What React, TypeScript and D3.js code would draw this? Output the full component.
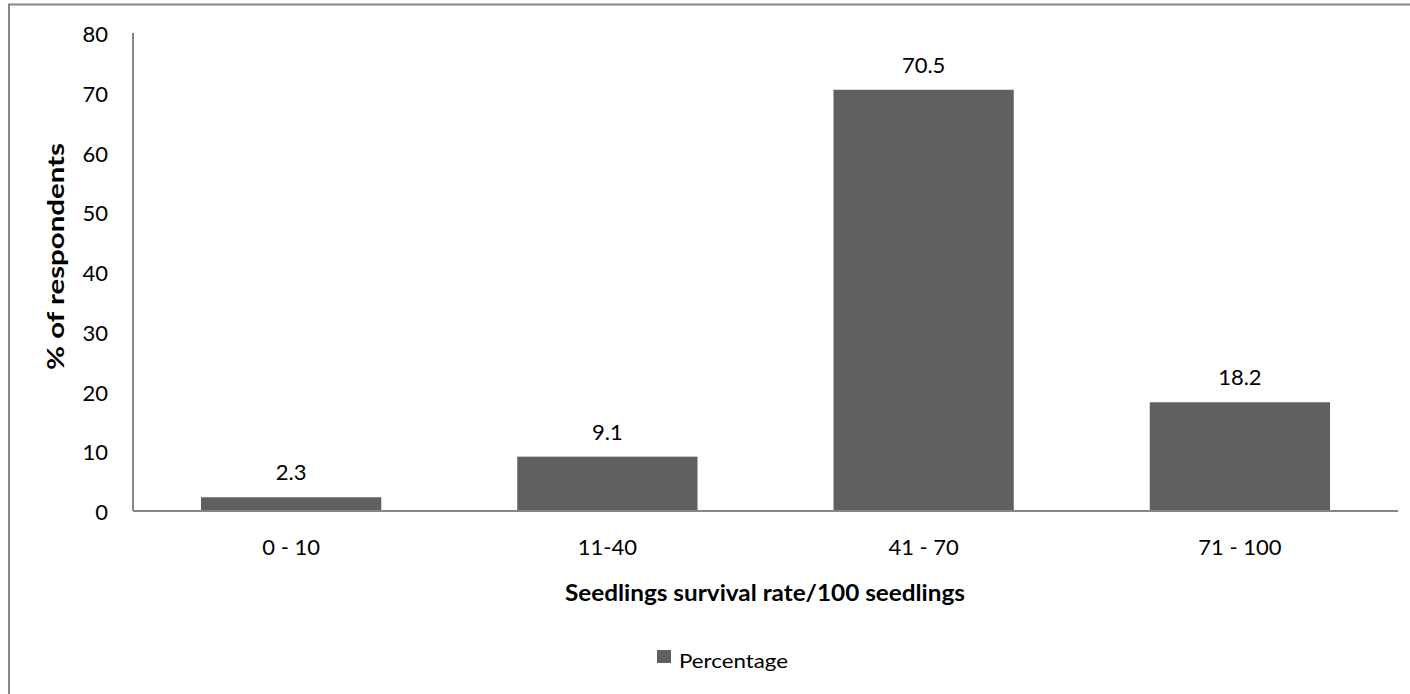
import React from "react";
import * as d3 from "d3";

const categories = ["0 - 10", "11-40", "41 - 70", "71 - 100"];
const percentages = [2.3, 9.1, 70.5, 18.2];
const yTicks = [0, 10, 20, 30, 40, 50, 60, 70, 80];

const W = 1410;
const H = 694;
const FONT = "Lato, 'Open Sans', sans-serif";
const AXIS = "#868686";
const BAR = "#606060";

export default function App() {
  const left = 133;
  const right = 1398;
  const top = 33;
  const bottom = 511;

  const x = d3
    .scaleBand<string>()
    .domain(categories)
    .range([left, right])
    .paddingInner(0.43)
    .paddingOuter(0.215);
  const y = d3.scaleLinear().domain([0, 80]).range([bottom, top]);

  return (
    <svg
      width={W}
      height={H}
      style={{ position: "absolute", left: 0, top: 0, background: "#fff" }}
      fontFamily={FONT}
    >
      {/* outer chart frame */}
      <rect x={9} y={4.5} width={1420} height={720} fill="#fff" stroke={AXIS} strokeWidth={2} />

      {/* y tick labels */}
      {yTicks.map((t) => (
        <text key={t} x={108} y={y(t) + 1.5} dy="0.35em" textAnchor="end" fontSize={22} fill="#000">
          {t}
        </text>
      ))}

      {/* bars */}
      {categories.map((c, i) => (
        <rect
          key={c}
          x={x(c)}
          y={y(percentages[i])}
          width={x.bandwidth()}
          height={y(0) - y(percentages[i])}
          fill={BAR}
        />
      ))}

      {/* value labels */}
      {categories.map((c, i) => (
        <text
          key={c}
          x={(x(c) as number) + x.bandwidth() / 2}
          y={y(percentages[i]) - 17}
          textAnchor="middle"
          fontSize={22}
          fill="#000"
        >
          {percentages[i].toFixed(1)}
        </text>
      ))}

      {/* axes */}
      <line x1={left} x2={left} y1={top} y2={bottom} stroke={AXIS} strokeWidth={2} />
      <line x1={left} x2={right} y1={bottom} y2={bottom} stroke={AXIS} strokeWidth={2} />

      {/* x tick labels */}
      {categories.map((c) => (
        <text
          key={c}
          x={(x(c) as number) + x.bandwidth() / 2}
          y={555}
          textAnchor="middle"
          fontSize={22}
          fill="#000"
        >
          {c}
        </text>
      ))}

      {/* axis titles */}
      <text
        x={765}
        y={601}
        textAnchor="middle"
        fontSize={22}
        fontWeight="bold"
        fill="#000"
        textLength={400}
        lengthAdjust="spacingAndGlyphs"
      >
        Seedlings survival rate/100 seedlings
      </text>
      <text
        transform={`translate(64, 256.5) rotate(-90)`}
        textAnchor="middle"
        fontSize={22}
        fontWeight="bold"
        fill="#000"
        textLength={227}
        lengthAdjust="spacingAndGlyphs"
      >
        % of respondents
      </text>

      {/* legend */}
      <rect x={657} y={650} width={14} height={13} fill={BAR} />
      <text x={679} y={668} fontSize={20} fill="#000" textLength={109} lengthAdjust="spacingAndGlyphs">
        Percentage
      </text>
    </svg>
  );
}
